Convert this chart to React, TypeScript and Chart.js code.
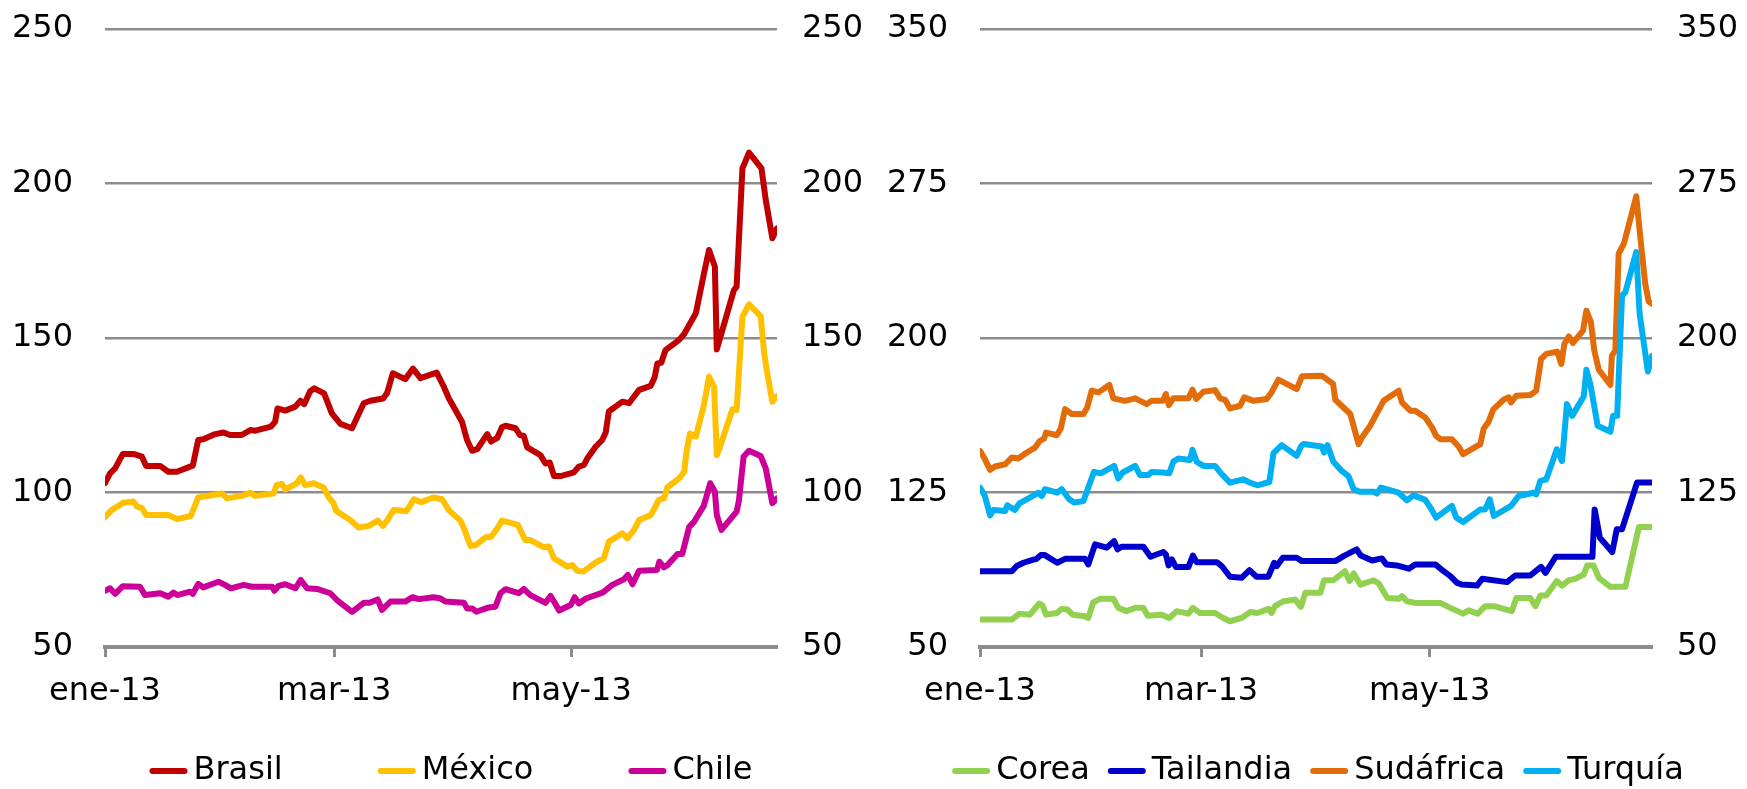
import React, { useEffect, useRef } from 'react';
import { Chart, registerables } from 'chart.js';

Chart.register(...registerables);

const FONT_FAMILY = '"DejaVu Sans", Verdana, sans-serif';
const FONT_SIZE = 32;

// x values are days elapsed since 1 January 2013
const monthStarts = [0, 59, 120];
const monthLabels = ['ene-13', 'mar-13', 'may-13'];

const latamTicks = [50, 100, 150, 200, 250];
const emergingTicks = [50, 125, 200, 275, 350];

const brasil: [number, number][] = [
  [0, 103], [1.3, 106.2], [2.6, 107.8], [4.6, 112.5], [7.3, 112.5], [9.5, 111.6], [10.6, 108.6],
  [14.2, 108.6], [16.3, 106.7], [18.5, 106.7], [22.6, 108.7], [24, 117], [25.3, 117.2], [28.4, 118.9],
  [30.5, 119.4], [32.2, 118.6], [35.2, 118.6], [37.4, 120.2], [38.7, 120], [42.7, 121.3], [43.8, 122.9],
  [44.4, 127.2], [46.4, 126.5], [49, 127.8], [50.3, 129.7], [51.3, 128.6], [52.8, 132.8], [53.9, 133.7],
  [56.4, 132.1], [58.4, 125.6], [60.6, 122.2], [63.6, 120.8], [66.6, 128.9], [68.3, 129.7], [71.6, 130.4],
  [72.6, 132.1], [74.1, 138.6], [77.3, 136.7], [79.3, 140.1], [81.2, 137], [85.4, 138.8], [87.2, 134.3],
  [88.5, 130.5], [91.9, 122.9], [93.2, 117], [94.5, 113.5], [95.8, 114], [98.4, 118.9], [99.4, 116.5],
  [101, 117.7], [102.2, 121.1], [103.1, 121.6], [105.7, 120.8], [106.8, 118.6], [107.8, 118.3],
  [108.7, 114.6], [112.1, 112.1], [113.4, 109.4], [114.5, 109.7], [115.6, 105.3], [117.3, 105.3],
  [120.7, 106.5], [122, 108.4], [123.3, 108.9], [124.2, 111.1], [126.3, 114.8], [128, 117], [128.9, 119.4],
  [129.7, 126.2], [133.2, 129.4], [134.9, 128.9], [137.5, 133.2], [140.5, 134.5], [141.5, 137.3],
  [142.2, 141.8], [143.2, 142], [144.3, 146.1], [147.8, 149.4], [149.1, 151.3], [152.1, 158], [154.2, 170.9],
  [155.5, 178.5], [157, 173.1], [157.5, 146.3], [161.9, 165.5], [162.6, 166.6], [164.1, 204.9], [165.8, 210],
  [169, 204.9], [170.1, 194.7], [171.8, 182.3], [173, 185.5],
];

const mexico: [number, number][] = [
  [0, 92], [1.7, 94.3], [4.7, 96.7], [7.3, 97.1], [8.3, 95.4], [9.5, 95], [10.6, 92.7], [16.3, 92.7],
  [18.5, 91.4], [22.1, 92.4], [24, 98.4], [30.1, 99.7], [31.4, 98.1], [35.2, 98.9], [37.4, 99.9],
  [38.7, 98.9], [43.4, 99.7], [44.2, 102.4], [45.5, 102.8], [46.4, 101], [49.4, 103], [50.4, 104.9],
  [51.5, 102.4], [53.7, 103], [56.3, 101.6], [57.6, 98.4], [58.8, 96.7], [59.5, 94.1], [63.1, 91.1],
  [65.3, 88.7], [67.9, 89.2], [70.2, 90.9], [71.6, 89.2], [72.8, 91.3], [74.3, 94.3], [77.6, 94],
  [79.5, 97.8], [81.4, 96.9], [84.5, 98.4], [86.8, 97.8], [88.5, 94.3], [91.5, 90.9], [92.4, 88.4],
  [94.1, 82.7], [95.4, 83], [98, 85.5], [99.4, 85.7], [101, 88.4], [102.2, 90.9], [106.3, 89.5],
  [108.2, 84.6], [109.5, 84.6], [112.9, 82.3], [114.3, 82.5], [115.6, 78.7], [119, 76], [120.3, 76.5],
  [121.6, 74.7], [123.1, 74.4], [126.6, 77.6], [128.4, 78.7], [129.7, 84.1], [133.2, 86.8], [134.5, 85.2],
  [136.2, 87.9], [137.5, 91.1], [140.5, 92.7], [141.7, 95.4], [142.6, 97.6], [143.9, 98.1], [144.8, 101.7],
  [147.8, 104.6], [149.1, 106.7], [149.7, 113.2], [150.6, 119.1], [152.1, 118.1], [154.2, 128.3],
  [155.5, 137.5], [156.8, 134.2], [157.5, 112.1], [158.5, 115.4], [161.5, 126.9], [162.6, 126.7],
  [164.1, 156.9], [165.8, 160.9], [168.8, 157.1], [169.7, 145], [170.5, 138.6], [171.8, 129.4], [173, 131.2],
];

const chile: [number, number][] = [
  [0, 68.2], [1.3, 69], [2.6, 67.2], [4.6, 69.7], [9, 69.5], [10.3, 66.8], [14.2, 67.4], [16.3, 66.3],
  [17.6, 67.6], [18.6, 66.8], [21.9, 67.9], [22.6, 67.2], [24, 70.4], [25.3, 69.3], [29.2, 71.1],
  [30.9, 70.1], [32.4, 69], [35.7, 70.1], [37.8, 69.5], [43, 69.5], [43.6, 68.2], [44.7, 69.8],
  [46.4, 70.3], [49, 69], [50.4, 71.7], [52, 69], [54.6, 68.8], [58, 67.4], [59.7, 65.2], [63.6, 61.4],
  [66.6, 64.3], [68.1, 64.3], [70.2, 65.4], [71.3, 62], [73.5, 64.7], [77.3, 64.7], [79.1, 66.1],
  [80.8, 65.5], [84.6, 66.1], [86.4, 65.7], [87.6, 64.7], [92.4, 64.3], [93.2, 62.5], [94.5, 62.5],
  [95.6, 61.4], [98.8, 62.8], [100.5, 63], [101.8, 67.4], [103.1, 68.7], [106.5, 67.4], [107.8, 68.8],
  [109.5, 66.8], [113.4, 64.3], [114.7, 66.5], [115.6, 64.7], [116.9, 61.8], [119.9, 63.6], [120.9, 66.1],
  [122, 64.1], [123.8, 65.7], [128.1, 67.6], [130.6, 70.1], [133.6, 71.9], [134.6, 73.3], [135.8, 70.3],
  [137.5, 74.7], [142.1, 74.9], [142.7, 77.6], [143.9, 75.8], [144.8, 76.5], [147.4, 80.1], [148.6, 80.1],
  [150.4, 88.9], [151.7, 90.6], [154.1, 95.6], [154.7, 98.1], [155.8, 103], [157, 100.3], [157.5, 92.7],
  [158.7, 87.9], [162.6, 93.8], [163.2, 97.4], [164.4, 111.6], [165.8, 113.5], [168.8, 111.8],
  [170.1, 107.8], [171.8, 96.5], [173, 98.1],
];

const corea: [number, number][] = [
  [0, 63.3], [8.5, 63.3], [10.5, 66.2], [13.3, 65.7], [15.8, 71.1], [16.7, 70.1], [17.6, 65.7],
  [20.5, 66.5], [21.8, 68.5], [23.3, 68.2], [24.7, 65.7], [28, 64.9], [28.9, 64.1], [30.2, 71.7],
  [32, 73.4], [35.6, 73.4], [36.9, 69], [39.1, 67.4], [41.4, 69], [43.6, 69], [44.7, 65.2], [48.5, 65.7],
  [50.5, 64.1], [52.5, 67.4], [55.6, 66.2], [56.8, 69], [58.7, 66.5], [62.7, 66.5], [64.9, 64.1],
  [66.7, 62.5], [69.8, 64.1], [72.1, 67], [74, 66.5], [77, 68.5], [77.8, 66.5], [78.7, 69.8], [81, 72.2],
  [84.1, 73], [85.6, 69.5], [86.8, 76.3], [90.8, 76.3], [91.8, 82.4], [94.3, 82.4], [97.4, 86.8],
  [98.6, 82], [99.7, 85.7], [101.5, 80.3], [105, 82.4], [106.4, 80.8], [108.7, 73.8], [111.7, 73.4],
  [112.6, 74.7], [113.9, 72.2], [116.1, 71.4], [122.8, 71.4], [125.5, 69], [128.9, 66.2], [130.4, 67.8],
  [132.8, 66.2], [134.8, 69.8], [137.1, 69.8], [141.9, 67.4], [143.1, 73.8], [146.8, 73.8], [148.2, 69.8],
  [149.5, 75], [151.1, 75], [153.9, 82], [155.3, 79.8], [157.1, 82.4], [158.8, 83.1], [161.1, 85.2],
  [162, 89.6], [163.7, 89.6], [165.1, 83.6], [168.2, 79.2], [172.2, 79.2], [175.8, 108.2], [179.3, 108.2],
];

const tailandia: [number, number][] = [
  [0, 86.8], [8.5, 86.8], [9.8, 89.3], [11.6, 90.9], [13.8, 92.2], [15.1, 92.8], [16.2, 94.6],
  [17.3, 94.6], [20.6, 90.9], [22.7, 92.8], [28, 92.8], [28.9, 90.1], [30.7, 99.8], [33.8, 98.2],
  [35.8, 101.4], [36.7, 97.4], [37.8, 98.7], [43.6, 98.7], [45.5, 93.8], [48.9, 96.1], [49.6, 94.9],
  [50.3, 89.6], [51.2, 92.5], [52.3, 88.8], [55.6, 88.8], [56.8, 94.4], [57.8, 91.2], [63.2, 91.2],
  [64.5, 89.3], [66.7, 84.1], [69.8, 83.6], [71.9, 87.3], [73.8, 84.1], [76.9, 84.1], [78.5, 90.9],
  [79.2, 89.3], [80.8, 93.3], [84.5, 93.3], [85.9, 91.7], [94.8, 91.7], [97, 94.1], [100.5, 97.4],
  [101.6, 94.4], [104.6, 92], [107.2, 93], [108.4, 90.1], [111.2, 89.6], [114.4, 88], [116.1, 90.1],
  [121.5, 90.1], [123.7, 86.8], [125.5, 84.4], [127.3, 81.1], [128.6, 80.3], [132.6, 79.8], [134, 83.1],
  [140.6, 81.5], [142.8, 84.7], [146.8, 84.7], [148.6, 87.3], [149.7, 88.9], [150.9, 86], [153.6, 93.8],
  [163.4, 93.8], [164, 116.8], [165.4, 103], [168.7, 96.1], [169.9, 107.1], [171.3, 107.1],
  [175.3, 129.8], [179.3, 129.8],
];

const sudafrica: [number, number][] = [
  [0, 145.2], [1.3, 141.2], [2.7, 136], [4, 137.6], [6.7, 138.7], [8.5, 142], [10.2, 141.5], [12.5, 144.4],
  [14.7, 146.8], [16, 150.1], [17.1, 151.2], [17.6, 154.1], [20.5, 152.8], [21.5, 155.8], [22.7, 165.5],
  [24.5, 163.1], [27.6, 163.1], [28.6, 166.3], [29.8, 174.4], [31.6, 173.6], [34.5, 177.2], [35.6, 170.7],
  [38.7, 169.5], [41.4, 170.7], [44.5, 167.9], [45.8, 169.5], [48.8, 169.5], [49.6, 172.8], [50.4, 167.4],
  [51.6, 170.7], [55.6, 170.7], [56.7, 174.9], [57.7, 170.4], [59.6, 173.9], [62.7, 174.7], [64.1, 170.7],
  [65.4, 170], [66.7, 165.8], [69.4, 167.1], [70.5, 171.2], [73, 169.5], [76.5, 170.4], [77.8, 173.6],
  [79.6, 179.8], [84.5, 175.2], [85.9, 181.4], [91.2, 181.7], [94.2, 177.7], [94.8, 170], [98.8, 163.1],
  [101, 148.5], [101.9, 151.7], [104.1, 157.4], [105.5, 162.2], [107.7, 169.5], [111.7, 174.4],
  [112.6, 168.7], [114.8, 164.7], [116.1, 164.7], [118.8, 161.4], [120.6, 156.6], [121.7, 152.5],
  [122.8, 150.9], [125.9, 150.9], [127.7, 147.3], [128.9, 143.6], [133.5, 148.5], [134.4, 156.1],
  [135.7, 159.3], [136.9, 165.2], [139.7, 170], [141.1, 171.2], [141.7, 168.7], [143.1, 172],
  [146.8, 172.3], [148.4, 174.4], [149.7, 189.8], [151.1, 192.3], [154, 193.4], [155.1, 187.4],
  [155.9, 197.1], [157.1, 200.8], [158.2, 197.6], [160.9, 203.6], [161.8, 213.3], [163, 207.7],
  [163.9, 193.9], [165.1, 184.6], [168.2, 177.2], [168.6, 191.4], [169.5, 193.9], [170.4, 240.9],
  [171.8, 245.8], [175.1, 268.8], [176.4, 245], [177.5, 226.3], [178.4, 217.7], [179.3, 216.6],
];

const turquia: [number, number][] = [
  [0, 127.4], [1.3, 123.3], [2.7, 113.9], [3.6, 116.5], [6.7, 116], [7.3, 118.8], [9.3, 116.5],
  [10.5, 119.7], [13.3, 122.5], [15.6, 124.9], [16.5, 123.3], [17.3, 126.6], [20.6, 124.9], [21.8, 126.6],
  [23.8, 121.7], [25.1, 120.1], [27.6, 120.9], [28.9, 127.4], [30.4, 135], [32.2, 134.3], [35.8, 137.9],
  [36.9, 131.8], [38.1, 134.7], [41.4, 137.9], [42.7, 133.5], [44.9, 133.5], [45.8, 135], [48.8, 134.7],
  [50.5, 134.3], [51.6, 140], [52.9, 141.5], [56, 140.8], [56.7, 145.7], [57.8, 139.9], [59.6, 137.9],
  [62.7, 137.9], [64.5, 133.9], [66.7, 129.8], [70.3, 131.4], [71.6, 130.1], [74, 128.5], [77.2, 130.1],
  [78.3, 144.1], [80.5, 148], [84.5, 142.8], [85.7, 147.6], [86.3, 148.5], [91.2, 147.3], [91.8, 144.4],
  [92.7, 148], [94.3, 139.9], [96.5, 135.5], [98.3, 133], [99.7, 126.6], [101.3, 125.4], [105, 125.4],
  [105.9, 124.5], [107, 127.4], [111.7, 124.9], [113.9, 121.2], [115.7, 123.6], [118.8, 121.4],
  [120.2, 117.6], [121.7, 112.8], [125.9, 118.5], [127.1, 112.8], [128.9, 110.7], [133.5, 116.8],
  [134.8, 116.8], [136, 121.7], [137.1, 113.6], [140.1, 116.8], [141.7, 118.5], [143.7, 123.3],
  [147.7, 124.9], [148.4, 124.1], [149.5, 130.6], [151.1, 131.4], [153.9, 146], [155.3, 140.3],
  [156.6, 167.9], [158, 162.2], [161.1, 171.7], [161.8, 184.6], [162.9, 177.2], [164.8, 157.4],
  [168.2, 154.5], [168.9, 162.2], [170, 162.2], [171.3, 220.6], [172.2, 222.3], [175.1, 241.7],
  [176, 211.7], [178.2, 183.7], [179.3, 191.4],
];

type Series = { label: string; color: string; points: [number, number][] };

type PanelSpec = {
  width: number;
  series: Series[];
  yTicks: number[];
  xMax: number;
  leftAxisWidth: number;
  rightAxisWidth: number;
  legendCenterX: number;
  legendGap: number;
};

const latamPanel: PanelSpec = {
  width: 874,
  series: [
    { label: 'Brasil', color: '#C00000', points: brasil },
    { label: 'México', color: '#FFC000', points: mexico },
    { label: 'Chile', color: '#CC0099', points: chile },
  ],
  yTicks: latamTicks,
  xMax: 173,
  leftAxisWidth: 105,
  rightAxisWidth: 97,
  legendCenterX: 451,
  legendGap: 95,
};

const emergingPanel: PanelSpec = {
  width: 873,
  series: [
    { label: 'Corea', color: '#92D050', points: corea },
    { label: 'Tailandia', color: '#0000CC', points: tailandia },
    { label: 'Sudáfrica', color: '#E36C0A', points: sudafrica },
    { label: 'Turquía', color: '#00B0F0', points: turquia },
  ],
  yTicks: emergingTicks,
  xMax: 179.3,
  leftAxisWidth: 106,
  rightAxisWidth: 95,
  legendCenterX: 444,
  legendGap: 18,
};

const GRID_GREY = '#8C8C8C';
const LINE_WIDTH = 6;

// One-row legend under the plot: short line sample followed by the series name.
const rowLegend = {
  id: 'rowLegend',
  afterDraw(chart: any, _args: any, opts: any) {
    const { ctx } = chart;
    const datasets = chart.data.datasets;
    ctx.save();
    ctx.font = `${FONT_SIZE}px ${FONT_FAMILY}`;
    const widths = datasets.map(
      (ds: any) => opts.sampleLength + opts.textGap + ctx.measureText(ds.label).width,
    );
    const total =
      widths.reduce((a: number, b: number) => a + b, 0) + opts.gap * (datasets.length - 1);
    let x = opts.centerX - total / 2;
    datasets.forEach((ds: any, i: number) => {
      const half = ds.borderWidth / 2;
      ctx.strokeStyle = ds.borderColor;
      ctx.lineWidth = ds.borderWidth;
      ctx.lineCap = 'round';
      ctx.beginPath();
      ctx.moveTo(x + half, opts.y);
      ctx.lineTo(x + opts.sampleLength - half, opts.y);
      ctx.stroke();
      ctx.fillStyle = '#000';
      ctx.textAlign = 'left';
      ctx.textBaseline = 'middle';
      ctx.fillText(ds.label, x + opts.sampleLength + opts.textGap, opts.y);
      x += widths[i] + opts.gap;
    });
    ctx.restore();
  },
};

// Vertical axes: fixed width, and no extra top/bottom margin beyond the layout padding.
const fixVerticalAxis = (width: number) => (axis: any) => {
  axis.width = width;
  axis.paddingTop = 0;
  axis.paddingBottom = 0;
};

function buildConfig(spec: PanelSpec): any {
  const yMin = spec.yTicks[0];
  const yMax = spec.yTicks[spec.yTicks.length - 1];
  const step = spec.yTicks[1] - spec.yTicks[0];
  const tickFont = { family: FONT_FAMILY, size: FONT_SIZE };

  return {
    type: 'line',
    data: {
      datasets: spec.series.map((s, i) => ({
        label: s.label,
        data: s.points.map(([x, y]) => ({ x, y })),
        borderColor: s.color,
        backgroundColor: s.color,
        borderWidth: LINE_WIDTH,
        borderJoinStyle: 'round',
        borderCapStyle: 'round',
        pointRadius: 0,
        tension: 0,
        order: -i,
        yAxisID: 'y',
      })),
    },
    plugins: [rowLegend],
    options: {
      animation: false,
      responsive: true,
      maintainAspectRatio: false,
      layout: { padding: { top: 29, left: 0, right: 0, bottom: 42 } },
      plugins: {
        tooltip: { enabled: false },
        legend: { display: false },
        rowLegend: {
          centerX: spec.legendCenterX,
          y: 771,
          gap: spec.legendGap,
          sampleLength: 38,
          textGap: 6,
        },
      },
      scales: {
        x: {
          type: 'linear',
          min: 0,
          max: spec.xMax,
          afterBuildTicks: (axis: any) => {
            axis.ticks = monthStarts.map((v) => ({ value: v }));
          },
          afterFit: (axis: any) => {
            axis.height = 100;
          },
          ticks: {
            autoSkip: false,
            maxRotation: 0,
            padding: 15,
            color: '#000',
            font: tickFont,
            callback: (v: number) => monthLabels[monthStarts.indexOf(v)] ?? '',
          },
          grid: {
            drawOnChartArea: false,
            drawTicks: true,
            tickLength: 10,
            tickWidth: 3,
            tickColor: GRID_GREY,
          },
          border: { display: true, color: GRID_GREY, width: 4 },
        },
        y: {
          position: 'left',
          min: yMin,
          max: yMax,
          afterFit: fixVerticalAxis(spec.leftAxisWidth),
          ticks: { stepSize: step, padding: 32, color: '#000', font: tickFont },
          grid: { color: GRID_GREY, lineWidth: 2.5, drawTicks: false },
          border: { display: false },
        },
        y2: {
          position: 'right',
          min: yMin,
          max: yMax,
          afterFit: fixVerticalAxis(spec.rightAxisWidth),
          ticks: { stepSize: step, padding: 25, color: '#000', font: tickFont },
          grid: { display: false, drawTicks: false },
          border: { display: false },
        },
      },
    },
  };
}

function Panel({ spec }: { spec: PanelSpec }) {
  const canvasRef = useRef<HTMLCanvasElement>(null);
  useEffect(() => {
    if (!canvasRef.current) return;
    const chart = new Chart(canvasRef.current, buildConfig(spec));
    return () => chart.destroy();
  }, [spec]);
  return (
    <div style={{ position: 'relative', width: spec.width, height: 789, flex: 'none' }}>
      <canvas ref={canvasRef} />
    </div>
  );
}

export default function App() {
  return (
    <div
      style={{
        position: 'fixed',
        left: 0,
        top: 0,
        width: 1747,
        height: 789,
        display: 'flex',
        background: '#fff',
      }}
    >
      <Panel spec={latamPanel} />
      <Panel spec={emergingPanel} />
    </div>
  );
}
